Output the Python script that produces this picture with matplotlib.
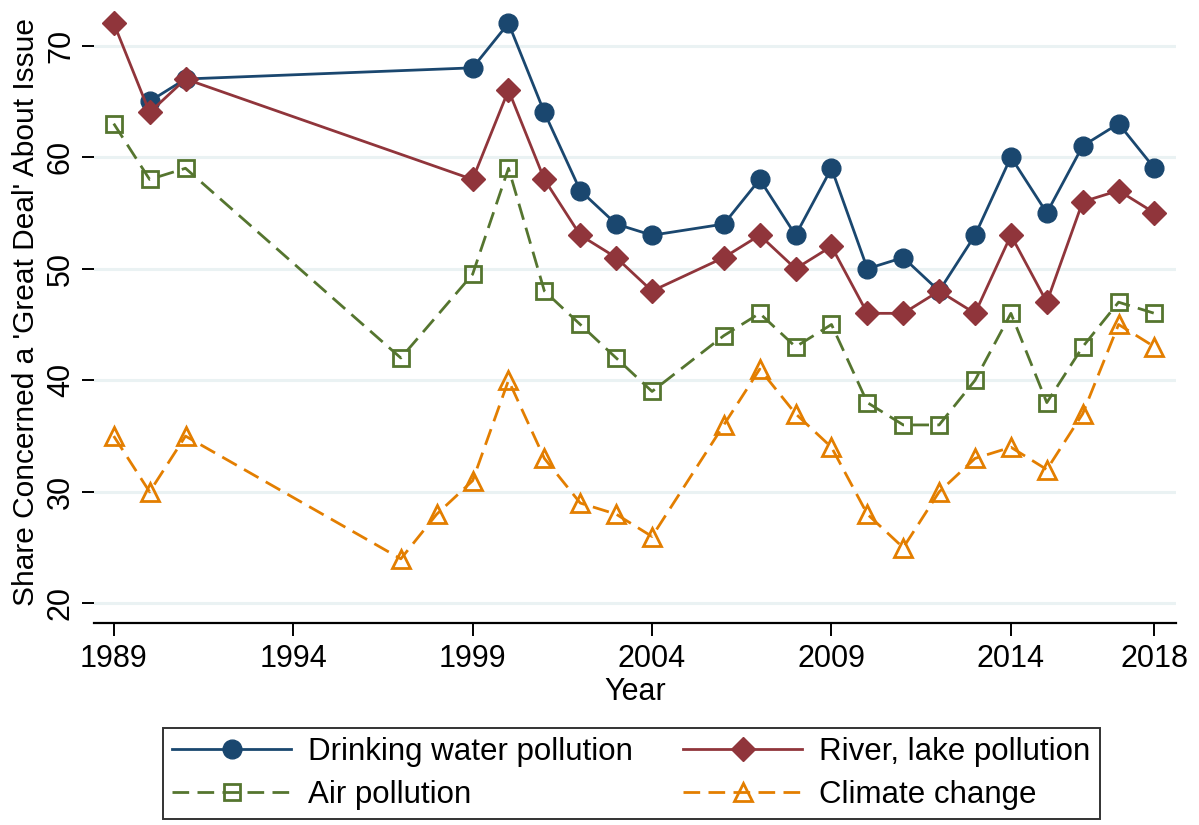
import matplotlib
matplotlib.use("Agg")
import matplotlib.pyplot as plt

plt.rcParams["font.family"] = ["Liberation Sans", "DejaVu Sans"]

# 数据
years_drink = [1990, 1991, 1999, 2000, 2001, 2002, 2003, 2004, 2006, 2007, 2008,
               2009, 2010, 2011, 2012, 2013, 2014, 2015, 2016, 2017, 2018]
drinking = [65, 67, 68, 72, 64, 57, 54, 53, 54, 58, 53,
            59, 50, 51, 48, 53, 60, 55, 61, 63, 59]

years_river = [1989, 1990, 1991, 1999, 2000, 2001, 2002, 2003, 2004, 2006, 2007,
               2008, 2009, 2010, 2011, 2012, 2013, 2014, 2015, 2016, 2017, 2018]
river = [72, 64, 67, 58, 66, 58, 53, 51, 48, 51, 53,
         50, 52, 46, 46, 48, 46, 53, 47, 56, 57, 55]

years_air = [1989, 1990, 1991, 1997, 1999, 2000, 2001, 2002, 2003, 2004, 2006,
             2007, 2008, 2009, 2010, 2011, 2012, 2013, 2014, 2015, 2016, 2017, 2018]
air = [63, 58, 59, 42, 49.5, 59, 48, 45, 42, 39, 44,
       46, 43, 45, 38, 36, 36, 40, 46, 38, 43, 47, 46]

years_climate = [1989, 1990, 1991, 1997, 1998, 1999, 2000, 2001, 2002, 2003, 2004,
                 2006, 2007, 2008, 2009, 2010, 2011, 2012, 2013, 2014, 2015, 2016,
                 2017, 2018]
climate = [35, 30, 35, 24, 28, 31, 40, 33, 29, 28, 26,
           36, 41, 37, 34, 28, 25, 30, 33, 34, 32, 37, 45, 43]

xticks = [1989, 1994, 1999, 2004, 2009, 2014, 2018]
yticks = [20, 30, 40, 50, 60, 70]

navy = "#1a476f"
maroon = "#90353b"
green = "#55752f"
orange = "#e37e00"

W, H = 1199, 825
fig = plt.figure(figsize=(W / 100, H / 100), dpi=100)
ax = fig.add_axes([94 / W, (H - 623) / H, (1176 - 94) / W, 621 / H])

dash = (0, (6, 3))
l1, = ax.plot(years_drink, drinking, color=navy, lw=2, marker="o", ms=13.5,
              label="Drinking water pollution", zorder=5)
l2, = ax.plot(years_river, river, color=maroon, lw=2, marker="D", ms=12.5,
              label="River, lake pollution", zorder=6)
l3, = ax.plot(years_air, air, color=green, lw=2, ls=dash, marker="s", ms=11,
              mfc="none", mew=2, label="Air pollution", zorder=4)
l4, = ax.plot(years_climate, climate, color=orange, lw=2, ls=dash, marker="^", ms=13,
              mfc="none", mew=2, label="Climate change", zorder=3)

ax.set_xlim(1988.45, 2018.6)
ax.set_ylim(18.25, 73.9)
ax.set_xticks(xticks)
ax.set_yticks(yticks)
ax.grid(axis="y", color="#eaf2f3", lw=2.2)
ax.set_axisbelow(True)
for s in ["top", "right", "left"]:
    ax.spines[s].set_visible(False)
ax.spines["bottom"].set_linewidth(1.6)
ax.tick_params(axis="x", length=9, width=1.4, labelsize=22, pad=6)
ax.tick_params(axis="y", length=9, width=1.4, labelsize=22, pad=4)
for lab in ax.get_yticklabels():
    lab.set_rotation(90)
    lab.set_va("center")

ax.set_xlabel("Year", fontsize=22, labelpad=2)
ax.set_ylabel("Share Concerned a 'Great Deal' About Issue", fontsize=21.5, labelpad=4)

# 图例：按行排列（饮用水、河湖 / 空气、气候）
leg = fig.legend([l1, l3, l2, l4],
                 [l1.get_label(), l3.get_label(), l2.get_label(), l4.get_label()],
                 loc="upper left", bbox_to_anchor=(163 / W, 1 - 728 / H),
                 borderaxespad=0, ncol=2, fontsize=22.5, frameon=True, fancybox=False,
                 edgecolor="black", handlelength=3.8, handletextpad=0.55,
                 borderpad=0.3, labelspacing=0.4, columnspacing=1.6)
leg.get_frame().set_linewidth(1.4)

plt.savefig("out.png", dpi=100)
plt.close()
